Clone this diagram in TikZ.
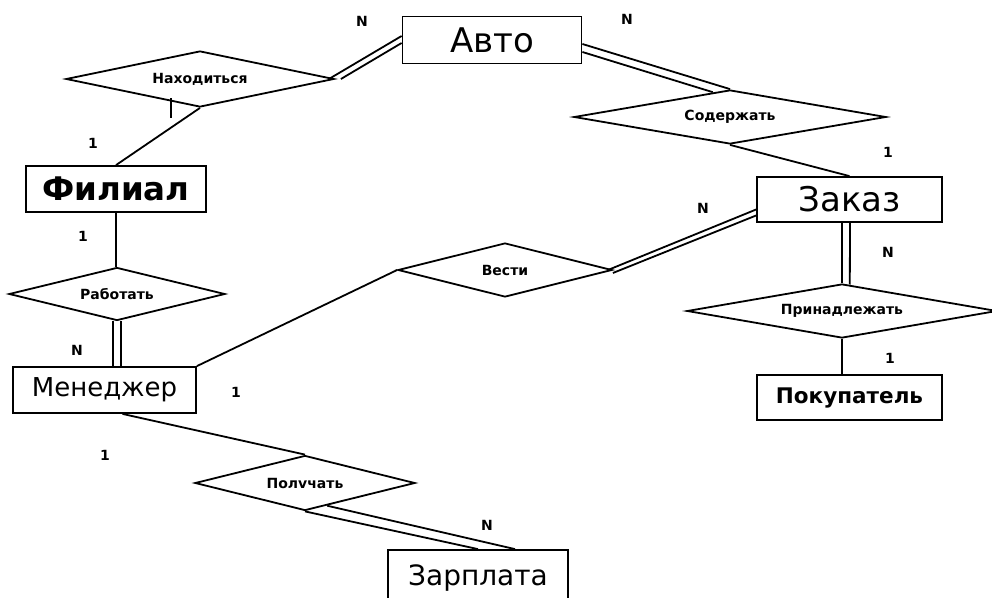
\documentclass[tikz,border=0pt]{standalone}
\usepackage{fontspec}
\setmainfont{DejaVu Sans}
\usetikzlibrary{shapes.geometric,calc}
\begin{document}
\begin{tikzpicture}[x=1pt,y=-1pt, line width=1.8pt,
  entity/.style={draw, rectangle, inner sep=0pt, font=\fontsize{30}{32}\selectfont},
  rel/.style={draw, diamond, inner sep=0pt, font=\bfseries\fontsize{14}{16}\selectfont},
  card/.style={font=\bfseries\fontsize{14}{16}\selectfont}]
\useasboundingbox (0,0) rectangle (992,597);

% entities
\node[entity, minimum width=179pt, minimum height=47pt, font=\fontsize{34}{36}\selectfont] (avto) at (492,40) {Авто};
\node[entity, minimum width=180pt, minimum height=46pt, font=\bfseries\fontsize{32.5}{34}\selectfont] (filial) at (116,189) {Филиал};
\node[entity, minimum width=183pt, minimum height=46pt, font=\fontsize{26}{28}\selectfont] (manager) at (104.5,390) {Менеджер};
\node[entity, minimum width=185pt, minimum height=45pt, font=\fontsize{34}{36}\selectfont] (zakaz) at (849.5,199.5) {Заказ};
\node[entity, minimum width=185pt, minimum height=45pt, font=\bfseries\fontsize{21.5}{23}\selectfont] (pokup) at (849.5,397.5) {Покупатель};
\node[entity, minimum width=180pt, minimum height=56pt, font=\fontsize{28}{30}\selectfont] (zarpl) at (478,578) {Зарплата};

% relationships
\node[rel, aspect=4.8, minimum width=268pt, minimum height=56pt] (nahod) at (200,79) {Находиться};
\node[rel, aspect=4.1, minimum width=216pt, minimum height=53pt] (rabot) at (117,294) {Работать};
\node[rel, aspect=4.0, minimum width=214pt, minimum height=54pt] (vesti) at (505,270) {Вести};
\node[rel, aspect=5.8, minimum width=312pt, minimum height=54pt] (soder) at (730,117) {Содержать};
\node[rel, aspect=5.7, minimum width=310pt, minimum height=54pt] (prin) at (842,311) {Принадлежать};
\node[rel, aspect=4.0, minimum width=220pt, minimum height=55pt] (poluch) at (305,483) {Полvчать};

% connectors
\draw ([xshift=-6pt]nahod.east) -- ([yshift=4pt]avto.west);
\draw ([xshift=6pt]nahod.east) -- ([yshift=-3pt]avto.west);
\draw (nahod.south) -- (filial.north);
\draw (171,98) -- (171,118);
\draw (filial.south) -- (filial.south |- rabot.north);
\draw ([xshift=-4pt]rabot.south) -- ([xshift=-4pt]rabot.south |- manager.north);
\draw ([xshift=4pt]rabot.south) -- ([xshift=4pt]rabot.south |- manager.north);
\draw (manager.north east) -- (vesti.west);
\draw ([xshift=-5pt]vesti.east) -- ([yshift=-10pt]zakaz.west);
\draw ([yshift=-3pt]vesti.east) -- ([yshift=-16pt]zakaz.west);
\draw ([yshift=-4pt]avto.east) -- (soder.north);
\draw ([yshift=-12pt]avto.east) -- ($(soder.north)!0.11!(soder.west)$);
\draw (soder.south) -- (zakaz.north);
\draw (prin.north) -- (prin.north |- zakaz.south);
\draw ([xshift=8pt]prin.north |- zakaz.south) -- ($(prin.north)!0.05!(prin.east)$);
\draw (prin.south) -- (prin.south |- pokup.north);
\draw ([xshift=18pt]manager.south) -- (poluch.north);
\draw (poluch.south) -- (zarpl.north);
\draw ($(poluch.south)!0.2!(poluch.east)$) -- ([xshift=37pt]zarpl.north);

% cardinalities
\node[card] (c1) at (362,21) {N};
\node[card] (c2) at (627,19) {N};
\node[card] (c3) at (93,143) {1};
\node[card] (c4) at (83,236) {1};
\node[card] (c5) at (77,350) {N};
\node[card] (c6) at (236,392) {1};
\node[card] (c7) at (888,152) {1};
\node[card] (c8) at (703,208) {N};
\node[card] (c9) at (888,252) {N};
\node[card] (c10) at (890,358) {1};
\node[card] (c11) at (105,455) {1};
\node[card] (c12) at (487,525) {N};
\end{tikzpicture}
\end{document}
